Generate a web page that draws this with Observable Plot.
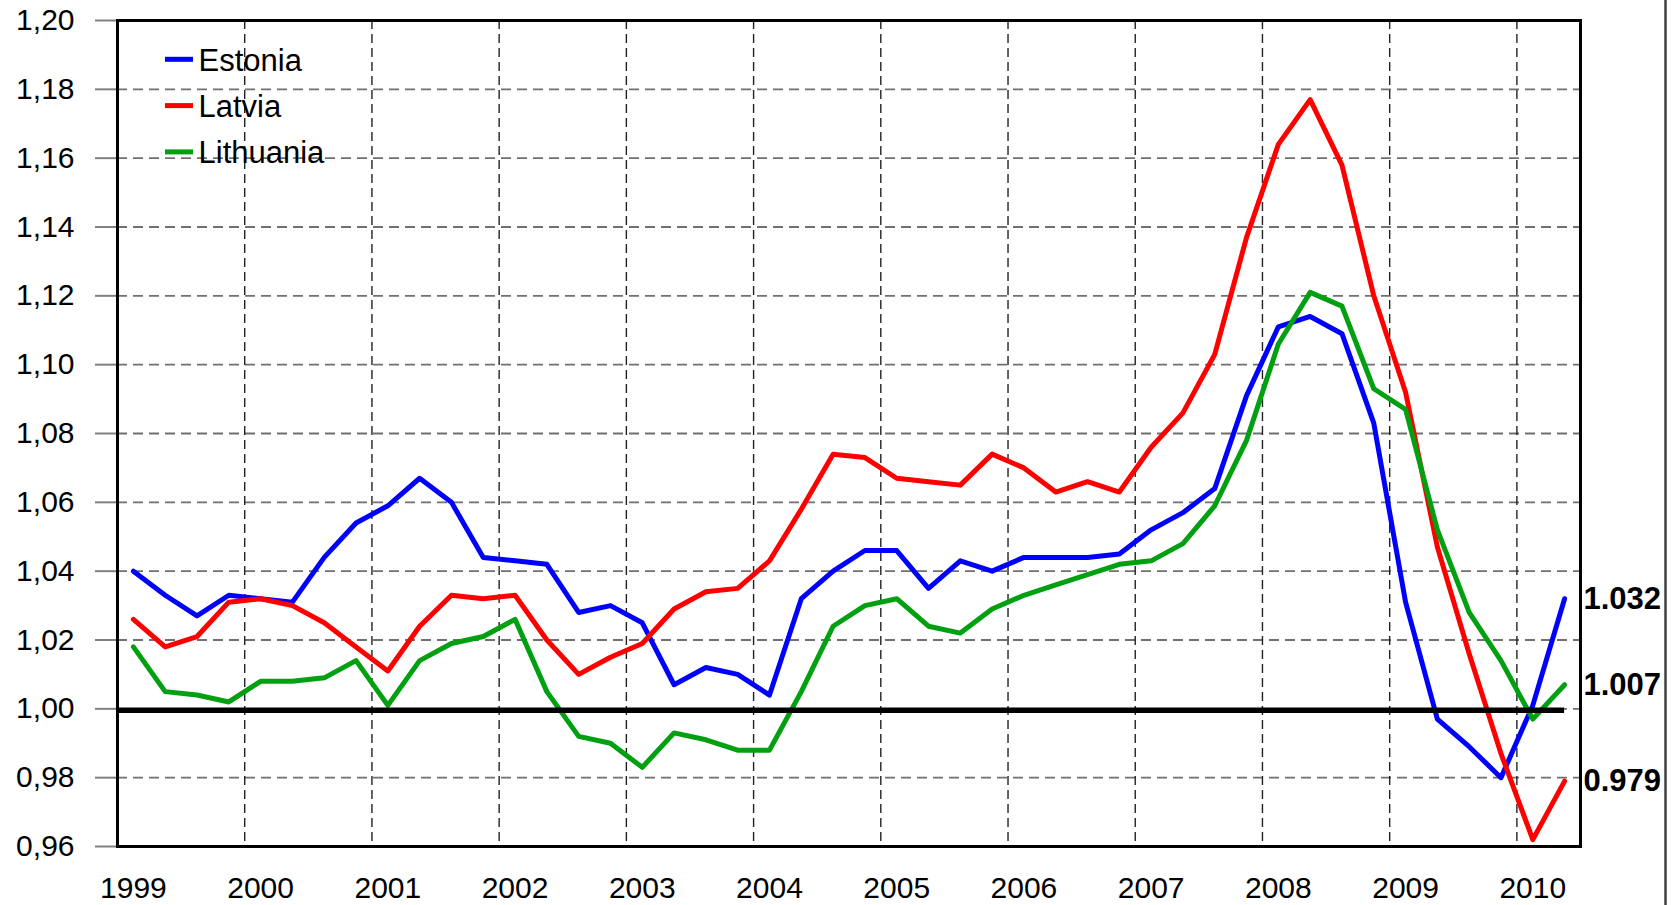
<!DOCTYPE html>
<html>
<head>
<meta charset="utf-8">
<script src="https://cdn.jsdelivr.net/npm/d3@7"></script>
<script src="https://cdn.jsdelivr.net/npm/@observablehq/plot@0.6"></script>
<style>
  html, body { margin: 0; padding: 0; background: #fff; }
  #chart { position: relative; width: 1677px; height: 905px; overflow: hidden; }
  #chart svg { display: block; }
</style>
</head>
<body>
<div id="chart"></div>
<script>
// ---- data ----
const years = ["1999","2000","2001","2002","2003","2004","2005","2006","2007","2008","2009","2010"];
const quarters = [
  "1999Q1","1999Q2","1999Q3","1999Q4","2000Q1","2000Q2","2000Q3","2000Q4",
  "2001Q1","2001Q2","2001Q3","2001Q4","2002Q1","2002Q2","2002Q3","2002Q4",
  "2003Q1","2003Q2","2003Q3","2003Q4","2004Q1","2004Q2","2004Q3","2004Q4",
  "2005Q1","2005Q2","2005Q3","2005Q4","2006Q1","2006Q2","2006Q3","2006Q4",
  "2007Q1","2007Q2","2007Q3","2007Q4","2008Q1","2008Q2","2008Q3","2008Q4",
  "2009Q1","2009Q2","2009Q3","2009Q4","2010Q1","2010Q2"
];
const countries = ["Estonia", "Latvia", "Lithuania"];
const colors = ["#0000ff", "#ff0000", "#00a010"];

const estonia = [
  1.040, 1.033, 1.027, 1.033, 1.032, 1.031, 1.044, 1.054,
  1.059, 1.067, 1.060, 1.044, 1.043, 1.042, 1.028, 1.030,
  1.025, 1.007, 1.012, 1.010, 1.004, 1.032, 1.040, 1.046,
  1.046, 1.035, 1.043, 1.040, 1.044, 1.044, 1.044, 1.045,
  1.052, 1.057, 1.064, 1.091, 1.111, 1.114, 1.109, 1.083,
  1.031, 0.997, 0.989, 0.980, 1.001, 1.032
];
const latvia = [
  1.026, 1.018, 1.021, 1.031, 1.032, 1.030, 1.025, 1.018,
  1.011, 1.024, 1.033, 1.032, 1.033, 1.020, 1.010, 1.015,
  1.019, 1.029, 1.034, 1.035, 1.043, 1.058, 1.074, 1.073,
  1.067, 1.066, 1.065, 1.074, 1.070, 1.063, 1.066, 1.063,
  1.076, 1.086, 1.103, 1.137, 1.164, 1.177, 1.158, 1.120,
  1.092, 1.047, 1.016, 0.987, 0.962, 0.979
];
const lithuania = [
  1.018, 1.005, 1.004, 1.002, 1.008, 1.008, 1.009, 1.014,
  1.001, 1.014, 1.019, 1.021, 1.026, 1.005, 0.992, 0.990,
  0.983, 0.993, 0.991, 0.988, 0.988, 1.005, 1.024, 1.030,
  1.032, 1.024, 1.022, 1.029, 1.033, 1.036, 1.039, 1.042,
  1.043, 1.048, 1.059, 1.078, 1.106, 1.121, 1.117, 1.093,
  1.087, 1.052, 1.028, 1.014, 0.997, 1.007
];
const yTicks = [0.96, 0.98, 1.00, 1.02, 1.04, 1.06, 1.08, 1.10, 1.12, 1.14, 1.16, 1.18, 1.20];
const baseline = 1.00;

// ---- build table ----
const series = [estonia, latvia, lithuania];
const rows = [];
countries.forEach((c, k) => {
  series[k].forEach((v, i) => rows.push({ i, quarter: quarters[i], country: c, value: v }));
});
const lastIdx = quarters.length - 1;
const lastRows = rows.filter(d => d.i === lastIdx);
const q1Idx = quarters.map((q, i) => (q.endsWith("Q1") ? i : -1)).filter(i => i >= 0);
const xDomain = [-0.5, quarters.length - 0.5];

const plot = Plot.plot({
  width: 1677,
  height: 905,
  marginLeft: 117,
  marginRight: 97,
  marginTop: 20,
  marginBottom: 59,
  x: { domain: xDomain, axis: null },
  y: { domain: [yTicks[0], yTicks[yTicks.length - 1]], axis: null },
  color: { domain: countries, range: colors },
  style: { fontFamily: "'Liberation Sans', Arial, sans-serif", background: "white", color: "black" },
  marks: [
    // horizontal dashed grid
    Plot.ruleY(yTicks.slice(1, -1), { stroke: "#707070", strokeWidth: 1.8, strokeDasharray: "10,6" }),
    // vertical dashed grid at year boundaries
    Plot.ruleX(q1Idx.filter(i => i > 0), { x: i => i - 0.5, stroke: "#222", strokeWidth: 1.4, strokeDasharray: "9,5" }),
    // y axis
    Plot.axisY({
      ticks: yTicks,
      tickFormat: d => d.toFixed(2).replace(".", ","),
      tickSize: 22,
      tickPadding: 21,
      fontSize: 30,
      stroke: "#808080",
      strokeWidth: 2,
      fill: "black",
      label: null
    }),
    // x axis labels (years at Q1)
    Plot.axisX({
      ticks: q1Idx,
      tickFormat: i => years[i / 4],
      tickSize: 0,
      tickPadding: 30,
      fontSize: 30,
      fill: "black",
      label: null
    }),
    // series lines
    Plot.line(rows, { x: "i", y: "value", z: "country", stroke: "country", strokeWidth: 5 }),
    // baseline at 1.00
    Plot.ruleY([baseline], { x1: xDomain[0], x2: lastIdx, stroke: "black", strokeWidth: 5.5, dy: 1.5 }),
    // frame
    Plot.frame({ stroke: "black", strokeWidth: 3 }),
    // end value labels
    Plot.text(lastRows, {
      x: xDomain[1],
      y: "value",
      text: d => d.value.toFixed(3),
      textAnchor: "start",
      dx: 3,
      fontSize: 31,
      fontWeight: "bold",
      fill: "black"
    })
  ]
});

document.getElementById("chart").appendChild(plot);

// legend inside plot area (top-left) and right border line
const svg = d3.select(plot);
const leg = svg.append("g").attr("text-anchor", "start");
countries.forEach((c, k) => {
  const cy = 59.3 + k * 46.3;
  leg.append("line")
    .attr("x1", 165).attr("x2", 193).attr("y1", cy).attr("y2", cy)
    .attr("stroke", colors[k]).attr("stroke-width", 5);
  leg.append("text")
    .attr("x", 198.5).attr("y", cy).attr("dy", "0.37em")
    .attr("text-anchor", "start")
    .attr("font-size", 31).attr("fill", "black")
    .text(c);
});
svg.append("line")
  .attr("x1", 1665.5).attr("x2", 1665.5).attr("y1", 0).attr("y2", 905)
  .attr("stroke", "#404040").attr("stroke-width", 2.5);
</script>
</body>
</html>
